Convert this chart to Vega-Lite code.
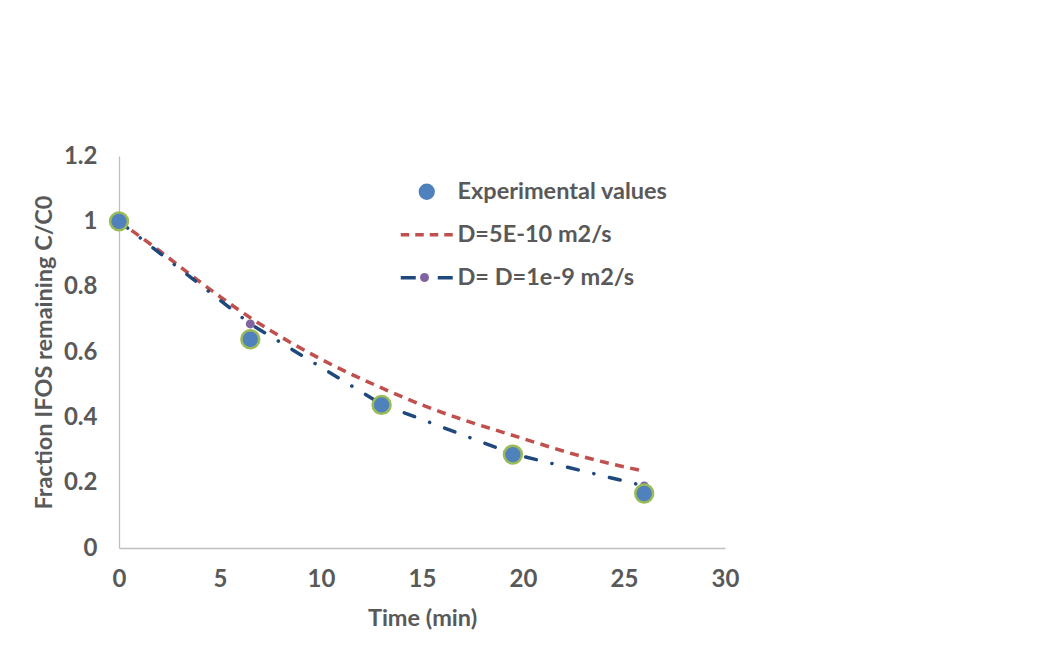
{
  "$schema": "https://vega.github.io/schema/vega-lite/v6.json",
  "width": 606,
  "height": 392,
  "autosize": {"type": "none"},
  "padding": {"left": 119, "top": 156, "right": 338, "bottom": 124},
  "background": "white",
  "config": {
    "view": {"stroke": null},
    "font": "Lato",
    "axis": {
      "grid": false,
      "ticks": false,
      "labelFlush": false,
      "labelOverlap": false,
      "domainColor": "#BFBFBF",
      "domainWidth": 1.3,
      "labelFont": "Lato",
      "labelFontSize": 24,
      "labelFontWeight": "bold",
      "labelColor": "#595959",
      "titleFont": "Lato",
      "titleFontSize": 23.5,
      "titleFontWeight": "bold",
      "titleColor": "#595959"
    }
  },
  "data": {
    "values": [
      {"series": "Experimental values", "t": 0, "v": 1.0},
      {"series": "Experimental values", "t": 6.5, "v": 0.639},
      {"series": "Experimental values", "t": 13, "v": 0.438},
      {"series": "Experimental values", "t": 19.5, "v": 0.286},
      {"series": "Experimental values", "t": 26, "v": 0.167},
      {"series": "D=5E-10 m2/s", "t": 0, "v": 1.0},
      {"series": "D=5E-10 m2/s", "t": 2, "v": 0.91},
      {"series": "D=5E-10 m2/s", "t": 4, "v": 0.815},
      {"series": "D=5E-10 m2/s", "t": 6.5, "v": 0.705},
      {"series": "D=5E-10 m2/s", "t": 10, "v": 0.578},
      {"series": "D=5E-10 m2/s", "t": 13, "v": 0.49},
      {"series": "D=5E-10 m2/s", "t": 15, "v": 0.438},
      {"series": "D=5E-10 m2/s", "t": 20, "v": 0.335},
      {"series": "D=5E-10 m2/s", "t": 23, "v": 0.279},
      {"series": "D=5E-10 m2/s", "t": 26, "v": 0.235},
      {"series": "D= D=1e-9 m2/s", "t": 0, "v": 1.0},
      {"series": "D= D=1e-9 m2/s", "t": 6.5, "v": 0.686},
      {"series": "D= D=1e-9 m2/s", "t": 13, "v": 0.44},
      {"series": "D= D=1e-9 m2/s", "t": 19.5, "v": 0.288},
      {"series": "D= D=1e-9 m2/s", "t": 26, "v": 0.19}
    ]
  },
  "encoding": {
    "x": {
      "field": "t",
      "type": "quantitative",
      "scale": {"domain": [0, 30], "nice": false},
      "axis": {"title": "Time (min)", "values": [0, 5, 10, 15, 20, 25, 30], "labelPadding": 19, "titlePadding": 15}
    },
    "y": {
      "field": "v",
      "type": "quantitative",
      "scale": {"domain": [0, 1.2], "nice": false},
      "axis": {"title": "Fraction IFOS remaining C/C0", "values": [0, 0.2, 0.4, 0.6, 0.8, 1, 1.2], "format": "~g", "labelPadding": 22, "titlePadding": 7}
    },
    "color": {
      "field": "series",
      "type": "nominal",
      "scale": {
        "domain": ["Experimental values", "D=5E-10 m2/s", "D= D=1e-9 m2/s"],
        "range": ["#4F81BD", "#C0504D", "#1F497D"]
      },
      "legend": {
        "title": null,
        "orient": "none",
        "legendX": 296,
        "legendY": 24,
        "padding": 0,
        "symbolSize": 3136,
        "symbolOffset": 0,
        "labelOffset": 19,
        "labelLimit": 0,
        "rowPadding": 18,
        "labelFont": "Lato",
        "labelFontSize": 23.5,
        "labelFontWeight": "bold",
        "labelColor": "#595959",
        "encode": {
          "symbols": {
            "update": {
              "shape": {"signal": "datum.value === 'Experimental values' ? 'circle' : 'stroke'"},
              "size": {"signal": "datum.value === 'Experimental values' ? 190 : 2704"},
              "fill": {"signal": "datum.value === 'Experimental values' ? '#4F81BD' : 'transparent'"},
              "stroke": {"signal": "datum.value === 'Experimental values' ? '#9BBB59' : (datum.value === 'D=5E-10 m2/s' ? '#C0504D' : '#1F497D')"},
              "strokeWidth": {"signal": "datum.value === 'Experimental values' ? 2.5 : 3.5"},
              "strokeDash": {"signal": "datum.value === 'D=5E-10 m2/s' ? [8.5, 6] : (datum.value === 'D= D=1e-9 m2/s' ? [15, 22, 15] : [])"},
              "opacity": {"value": 1}
            }
          }
        }
      }
    }
  },
  "layer": [
    {
      "transform": [{"filter": "datum.series === 'D=5E-10 m2/s'"}],
      "mark": {"type": "line", "strokeWidth": 3.5, "strokeDash": [9, 6.5], "interpolate": "monotone"}
    },
    {
      "transform": [{"filter": "datum.series === 'D= D=1e-9 m2/s'"}],
      "mark": {"type": "line", "strokeWidth": 3.5, "strokeDash": [11, 16, 0.1, 16], "strokeCap": "round"}
    },
    {
      "transform": [{"filter": "datum.series === 'D= D=1e-9 m2/s'"}],
      "mark": {"type": "point", "filled": true, "fill": "#8064A2", "opacity": 1, "size": 80, "strokeWidth": 0},
      "encoding": {
        "color": {"value": "#8064A2"},
        "shape": {
          "field": "series",
          "type": "nominal",
          "scale": {"range": ["circle"]},
          "legend": {
            "title": null,
            "orient": "none",
            "legendX": 301,
            "legendY": 117,
            "padding": 0,
            "symbolOffset": 0,
            "symbolSize": 80,
            "symbolFillColor": "#8064A2",
            "symbolStrokeWidth": 0,
            "labelExpr": "''",
            "labelFontSize": 1
          }
        }
      }
    },
    {
      "transform": [{"filter": "datum.series === 'Experimental values'"}],
      "mark": {"type": "point", "filled": true, "opacity": 1, "size": 320, "stroke": "#9BBB59", "strokeWidth": 2.5}
    }
  ]
}
